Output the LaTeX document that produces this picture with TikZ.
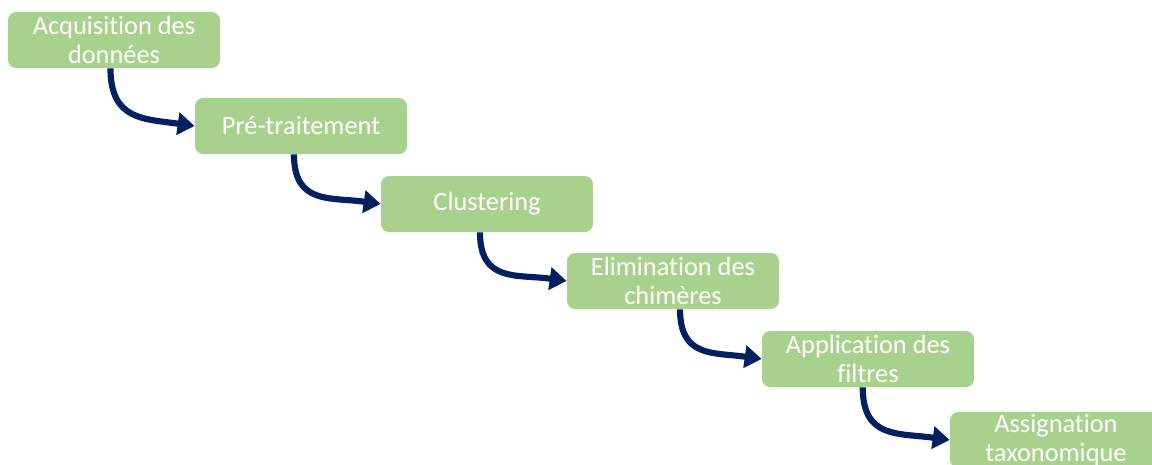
\documentclass[tikz,border=0pt]{standalone}
\usepackage{fontspec}
\setmainfont{Carlito}[Ligatures=NoCommon]
\usetikzlibrary{arrows.meta}

\definecolor{boxgreen}{HTML}{A9D18E}
\definecolor{arrowblue}{HTML}{002060}

\begin{document}
\begin{tikzpicture}[x=0.02cm,y=0.02cm,
	>={Triangle[length=3.4mm,width=4.4mm]},
	step box/.style={draw=none,fill=boxgreen,rounded corners=0.16cm,
		minimum width=4.24cm,minimum height=1.12cm,inner sep=0pt,
		text=white,align=center,font=\fontsize{15}{17}\selectfont},
	flow/.style={->,draw=arrowblue,line width=3.5pt,out=-90,in=172,looseness=1.3}]
	\clip (0,0) rectangle (1152,-464);
	\node[step box] (acq) at (114,-40) {Acquisition des\\données};
	\node[step box] (pre) at (301,-126) {Pré-traitement};
	\node[step box] (clu) at (487,-204) {Clustering};
	\node[step box] (chim) at (673,-281) {Elimination des\\chimères};
	\node[step box] (filt) at (868,-359) {Application des\\filtres};
	\node[step box] (tax) at (1056,-440) {Assignation\\taxonomique};

	\path ([xshift=-2]acq.south) edge[flow] (pre.west)
	([xshift=-4]pre.south) edge[flow] (clu.west)
	([xshift=-4]clu.south) edge[flow] (chim.west)
	([xshift=4]chim.south) edge[flow] (filt.west)
	([xshift=-3]filt.south) edge[flow] (tax.west)
	;
\end{tikzpicture}
\end{document}
